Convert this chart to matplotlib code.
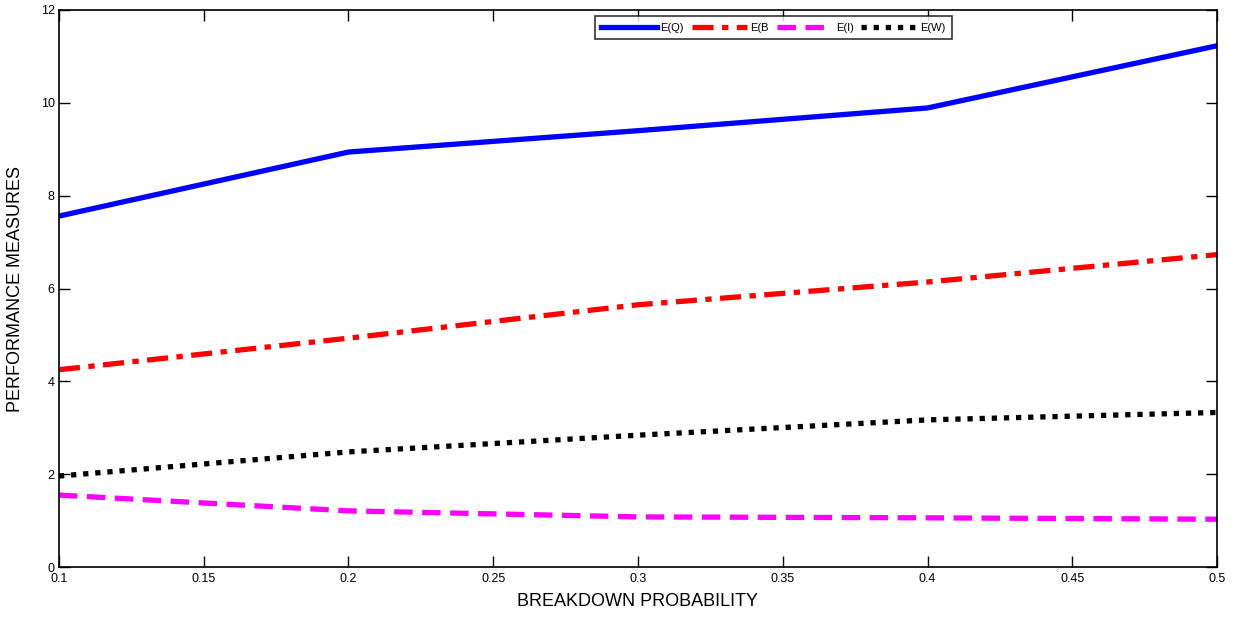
import matplotlib.pyplot as plt
import numpy as np

plt.rcParams['font.family'] = ['Liberation Sans', 'DejaVu Sans']

# breakdown probability vs performance measures
prob = [0.1, 0.2, 0.3, 0.4, 0.5]
EQ = [7.56, 8.94, 9.40, 9.89, 11.23]
EB = [4.25, 4.93, 5.65, 6.14, 6.73]
EI = [1.55, 1.21, 1.08, 1.06, 1.03]
EW = [1.96, 2.48, 2.84, 3.17, 3.33]

xticks = [0.1, 0.15, 0.2, 0.25, 0.3, 0.35, 0.4, 0.45, 0.5]
yticks = [0, 2, 4, 6, 8, 10, 12]

fig = plt.figure(figsize=(12.41, 6.17), dpi=100)
ax = fig.add_axes([0.0475, 0.081, 0.9332, 0.9028])

ax.plot(prob, EQ, color='#0000ff', lw=3.8, ls='-', label='E(Q)')
ax.plot(prob, EB, color='#ff0000', lw=3.8, ls=(0, (4, 1.6, 1.2, 1.6)), label='E(B')
ax.plot(prob, EI, color='#ff00ff', lw=3.8, ls=(0, (3.5, 1.8)), label='E(I)')
ax.plot(prob, EW, color='#000000', lw=3.8, ls=(0, (1, 1.3)), label='E(W)')

ax.set_xlim(0.1, 0.5)
ax.set_ylim(0, 12)
ax.set_xticks(xticks)
ax.set_xticklabels(['%g' % t for t in xticks])
ax.set_yticks(yticks)
ax.set_yticklabels([str(t) for t in yticks])
ax.tick_params(direction='in', top=True, right=True, length=8, width=1, labelsize=9)
ax.tick_params(axis='x', pad=4)
ax.tick_params(axis='y', pad=3)
for s in ax.spines.values():
    s.set_linewidth(1.2)

ax.set_xlabel('BREAKDOWN PROBABILITY', fontsize=13, labelpad=6)
ax.set_ylabel('PERFORMANCE MEASURES', fontsize=13, labelpad=12)

leg = ax.legend(loc='upper center', bbox_to_anchor=(0.617, 0.999), ncol=4, fontsize=8,
                frameon=True, fancybox=False, edgecolor='black', handlelength=5,
                columnspacing=0.7, handletextpad=0.3, borderpad=0.6)
leg.get_frame().set_linewidth(1.2)

fig.savefig('out.png', dpi=100)
